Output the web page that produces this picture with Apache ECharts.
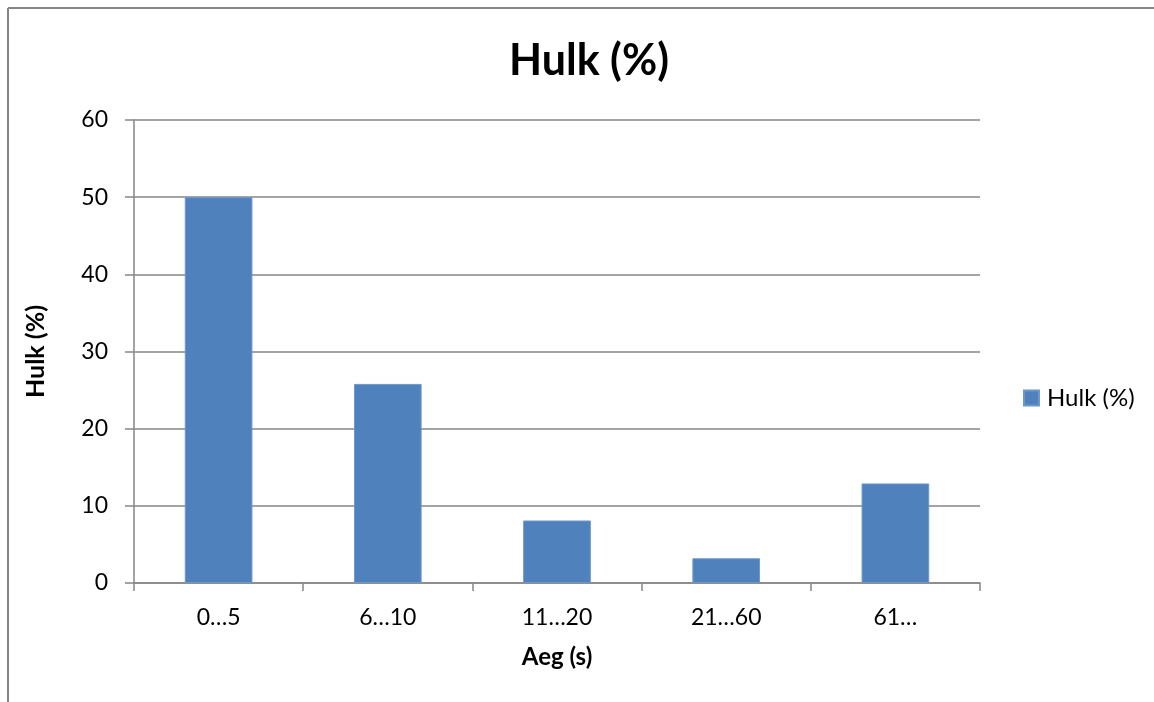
<!DOCTYPE html>
<html>
<head>
<meta charset="utf-8">
<script src="https://cdn.jsdelivr.net/npm/echarts@6/dist/echarts.min.js"></script>
<style>
html,body{margin:0;padding:0;background:#fff;}
#chart{width:1154px;height:702px;}
</style>
</head>
<body>
<div id="chart"></div>
<script>
// Age groups (seconds) and their share in percent
const categories = ['0…5', '6…10', '11…20', '21…60', '61…'];
const hulkValues = [50, 25.8, 8.1, 3.2, 12.9];
const yTicks = [0, 10, 20, 30, 40, 50, 60];

const FONT = 'Lato, "Liberation Sans", sans-serif';
const GRAY = '#868686';

const chart = echarts.init(document.getElementById('chart'), null, {renderer: 'canvas'});
chart.setOption({
  animation: false,
  backgroundColor: '#fff',
  title: {
    text: 'Hulk (%)',
    left: 584,
    textAlign: 'center',
    top: 35,
    textStyle: {fontFamily: FONT, fontSize: 43, fontWeight: 'bold', color: '#000'}
  },
  legend: {
    left: 1023,
    top: 386,
    padding: 0,
    orient: 'vertical',
    icon: 'rect',
    itemWidth: 15,
    itemHeight: 15,
    textStyle: {fontFamily: FONT, fontSize: 24, color: '#000', padding: [0, 0, 0, 3]},
    data: ['Hulk (%)']
  },
  graphic: [
    // frame of the chart area (top and left edges)
    {type: 'line', shape: {x1: 8, y1: 8, x2: 1154, y2: 8}, style: {stroke: GRAY, lineWidth: 2}},
    {type: 'line', shape: {x1: 8, y1: 8, x2: 8, y2: 702}, style: {stroke: GRAY, lineWidth: 2}}
  ],
  grid: {left: 134, right: 174, top: 120, bottom: 119, containLabel: false},
  xAxis: {
    type: 'category',
    data: categories,
    name: 'Aeg (s)',
    nameLocation: 'middle',
    nameGap: 62,
    nameTextStyle: {fontFamily: FONT, fontSize: 24, fontWeight: 'bold', color: '#000'},
    axisLine: {lineStyle: {color: GRAY, width: 1.5}},
    axisTick: {show: true, length: 8, alignWithLabel: false, lineStyle: {color: GRAY, width: 1.5}},
    axisLabel: {fontFamily: FONT, fontSize: 23, color: '#000', margin: 23}
  },
  yAxis: {
    type: 'value',
    min: yTicks[0],
    max: yTicks[yTicks.length - 1],
    interval: 10,
    name: 'Hulk (%)',
    nameLocation: 'middle',
    nameGap: 86,
    nameRotate: 90,
    nameTextStyle: {fontFamily: FONT, fontSize: 25, fontWeight: 'bold', color: '#000'},
    axisLine: {show: true, lineStyle: {color: GRAY, width: 1.5}},
    axisTick: {show: true, length: 9, lineStyle: {color: GRAY, width: 1.5}},
    axisLabel: {fontFamily: FONT, fontSize: 23, color: '#000', margin: 26},
    splitLine: {show: true, lineStyle: {color: GRAY, width: 1.5}}
  },
  series: [{
    name: 'Hulk (%)',
    type: 'bar',
    data: hulkValues,
    barWidth: '40%',
    itemStyle: {color: '#4F81BD', borderColor: '#6C98CC', borderWidth: 1}
  }]
});
</script>
</body>
</html>
